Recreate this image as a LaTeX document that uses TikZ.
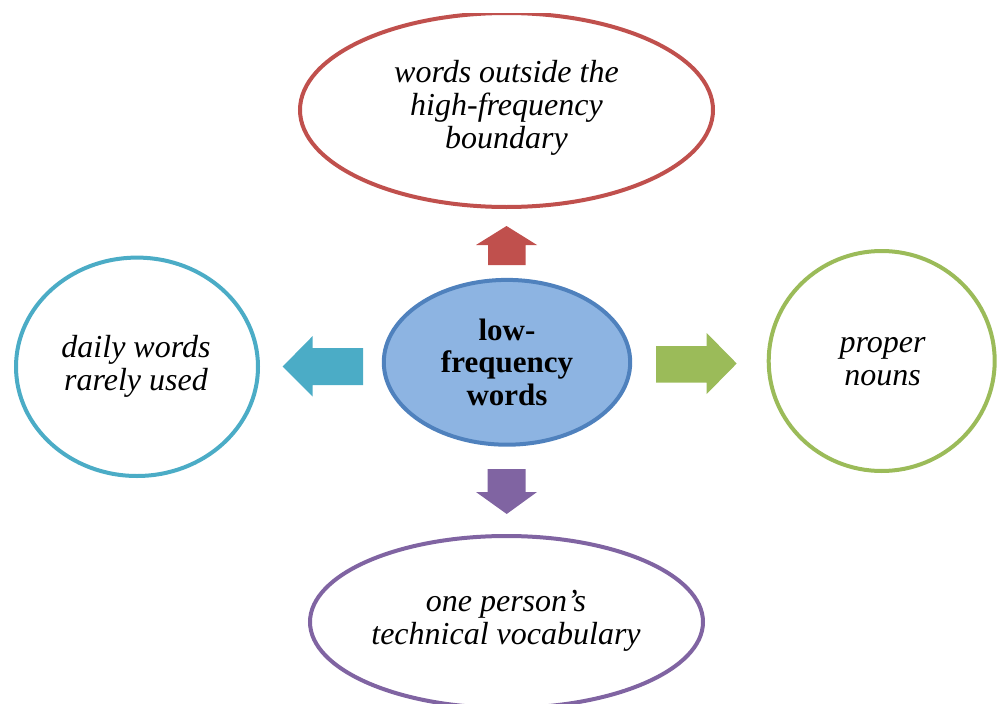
\documentclass[tikz,border=0pt]{standalone}
\usepackage{fontspec}
\setmainfont{Liberation Serif}
\usetikzlibrary{shapes.geometric}
\definecolor{cred}{HTML}{C0504D}
\definecolor{cblue}{HTML}{4F81BD}
\definecolor{cfill}{HTML}{8DB4E2}
\definecolor{ccyan}{HTML}{4BACC6}
\definecolor{cgreen}{HTML}{9BBB59}
\definecolor{cpurple}{HTML}{8064A2}
\tikzset{
  bubble/.style={ellipse, draw=#1, line width=4pt, fill=white, inner sep=0pt},
  itext/.style={anchor=base, align=center, inner sep=0pt,
    font=\fontsize{32}{33}\selectfont\itshape},
  btext/.style={anchor=base, align=center, inner sep=0pt,
    font=\fontsize{31}{32.5}\selectfont\bfseries},
  blockarrow/.style={fill=#1, draw=none}
}
\begin{document}
\begin{tikzpicture}[x=1pt,y=-1pt]
\useasboundingbox (0,0) rectangle (997,704);
\clip (0,13) rectangle (997,704);

% outer bubbles
\node[bubble=cred, minimum width=413pt, minimum height=194pt] (top) at (506.5,110) {};
\node[bubble=ccyan, minimum width=242pt, minimum height=218.4pt] (left) at (137,366.8) {};
\node[bubble=cgreen, minimum width=226pt, minimum height=220pt] (right) at (881.7,361) {};
\node[bubble=cpurple, minimum width=393pt, minimum height=172pt] (bottom) at (506.5,622) {};

% centre bubble
\node[bubble=cblue, fill=cfill, minimum width=246.4pt, minimum height=164.8pt] (centre) at (507,362.3) {};

% labels (base anchor sits on the last line)
\node[itext] (toptext) at (506.5,148) {words outside the\\high-frequency\\boundary};
\node[itext] (lefttext) at (136,390) {daily words\\rarely used};
\node[itext] (righttext) at (882.5,385) {proper\\nouns};
\node[itext] (bottomtext) at (506,644) {one person’s\\technical vocabulary};
\node[btext] (centretext) at (507,405) {low-\\frequency\\words};

% block arrows pointing out of the centre
\fill[blockarrow=cred] (506.5,226) -- (537,245) -- (525.7,245) -- (525.7,265)
  -- (488,265) -- (488,245) -- (476,245) -- cycle;
\fill[blockarrow=ccyan] (282.7,366.5) -- (312.7,336) -- (312.7,348) -- (363,348)
  -- (363,385) -- (312.7,385) -- (312.7,396.7) -- cycle;
\fill[blockarrow=cgreen] (736.7,363.5) -- (706.7,333) -- (706.7,346) -- (656,346)
  -- (656,382.7) -- (706.7,382.7) -- (706.7,394) -- cycle;
\fill[blockarrow=cpurple] (506.7,514) -- (537,492) -- (525.7,492) -- (525.7,469)
  -- (487.7,469) -- (487.7,492) -- (476,492) -- cycle;
\end{tikzpicture}
\end{document}
